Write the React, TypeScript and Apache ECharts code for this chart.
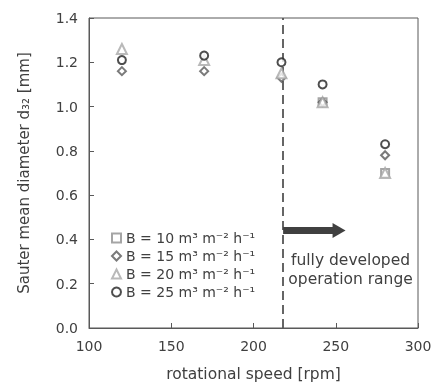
import React, { useEffect, useRef } from "react";
import * as echarts from "echarts";

const speeds = [120, 170, 217, 242, 280];
const seriesNames = [
  "B = 10 m³ m⁻² h⁻¹",
  "B = 15 m³ m⁻² h⁻¹",
  "B = 20 m³ m⁻² h⁻¹",
  "B = 25 m³ m⁻² h⁻¹",
];
const b10 = [null, null, null, 1.02, 0.70];
const b15 = [1.16, 1.16, 1.13, 1.02, 0.78];
const b20 = [1.26, 1.21, 1.15, 1.02, 0.70];
const b25 = [1.21, 1.23, 1.20, 1.10, 0.83];
const boundary = 217.5;
const arrowFrom = 218;
const arrowTo = 252;
const arrowY = 0.44;
const rangeLabel = "fully developed\noperation range";
const rangeLabelAt = [259, 0.265];

const symbols = ["emptyRect", "emptyDiamond", "emptyTriangle", "emptyCircle"];
const colors = ["#8f8f8f", "#595959", "#a8a8a8", "#222222"];
const sizes = [8, 8, 10, 8];
const font = "'DejaVu Sans', Verdana, sans-serif";
const textColor = "#404040";

export default function App() {
  const ref = useRef<HTMLDivElement>(null);
  useEffect(() => {
    if (!ref.current) return;
    const chart = echarts.init(ref.current, null, { renderer: "svg" });
    const all = [b10, b15, b20, b25];
    const series: any[] = all.map((vals, i) => ({
      name: seriesNames[i],
      type: "scatter",
      symbol: symbols[i],
      symbolSize: sizes[i],
      itemStyle: { color: colors[i], borderColor: colors[i], borderWidth: 1.7 },
      data: speeds.map((s, j) => (vals[j] == null ? null : [s, vals[j]])).filter((d) => d),
      z: 3 + i,
    }));
    series[0].markLine = {
      silent: true,
      symbol: "none",
      label: { show: false },
      lineStyle: { color: "#555", width: 1.8, type: [9, 5] },
      data: [{ xAxis: boundary }],
    };
    series[1].markLine = {
      silent: true,
      symbol: ["none", "triangle"],
      symbolSize: [15, 13],
      label: { show: false },
      lineStyle: { color: "#404040", width: 7, type: "solid" },
      data: [[{ coord: [arrowFrom, arrowY] }, { coord: [arrowTo, arrowY] }]],
    };
    series[2].markPoint = {
      silent: true,
      symbol: "circle",
      symbolSize: 0,
      label: {
        show: true,
        position: "inside",
        formatter: rangeLabel,
        color: textColor,
        fontFamily: font,
        fontSize: 15.5,
        lineHeight: 19,
        align: "center",
        verticalAlign: "middle",
      },
      data: [{ coord: rangeLabelAt }],
    };
    chart.setOption({
      animation: false,
      grid: {
        left: 89,
        right: 18,
        top: 18,
        bottom: 57,
        show: true,
        borderColor: "#595959",
        borderWidth: 1,
      },
      legend: {
        orient: "vertical",
        left: 106,
        top: 226,
        itemWidth: 9,
        itemHeight: 9,
        itemGap: 4,
        textStyle: { color: textColor, fontFamily: font, fontSize: 14 },
        data: seriesNames,
      },
      xAxis: {
        type: "value",
        min: 100,
        max: 300,
        interval: 50,
        name: "rotational speed [rpm]",
        nameLocation: "middle",
        nameGap: 38,
        nameTextStyle: { color: textColor, fontFamily: font, fontSize: 15.5 },
        axisLine: { lineStyle: { color: "#595959" } },
        axisTick: { inside: true, length: 5, lineStyle: { color: "#595959" } },
        axisLabel: { color: textColor, fontFamily: font, fontSize: 14, margin: 11 },
        splitLine: { show: false },
      },
      yAxis: {
        type: "value",
        min: 0,
        max: 1.4,
        interval: 0.2,
        name: "Sauter mean diameter d₃₂ [mm]",
        nameLocation: "middle",
        nameRotate: 90,
        nameGap: 58,
        nameTextStyle: { color: textColor, fontFamily: font, fontSize: 15 },
        axisLine: { show: true, lineStyle: { color: "#595959" } },
        axisTick: { show: true, inside: true, length: 5, lineStyle: { color: "#595959" } },
        axisLabel: {
          color: textColor,
          fontFamily: font,
          fontSize: 14,
          margin: 11,
          formatter: (v: number) => v.toFixed(1),
        },
        splitLine: { show: false },
      },
      series,
    });
    return () => chart.dispose();
  }, []);
  return (
    <div
      ref={ref}
      style={{ position: "fixed", left: 0, top: 0, width: 436, height: 387 }}
    />
  );
}
